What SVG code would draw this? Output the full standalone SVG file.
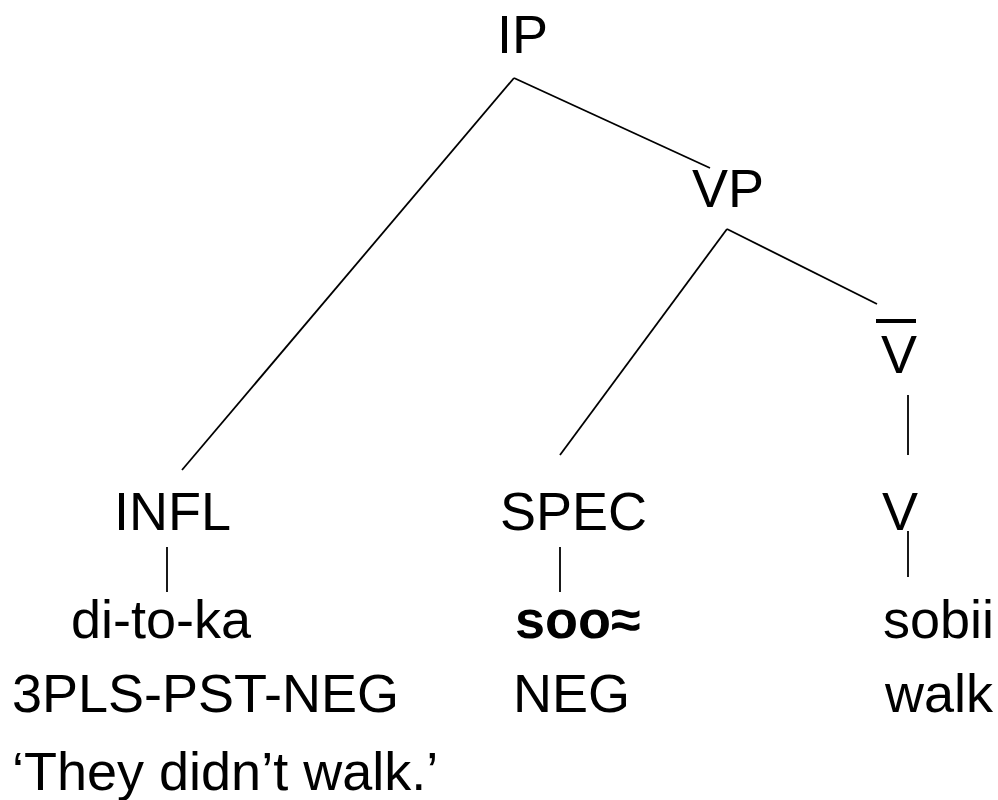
<svg xmlns="http://www.w3.org/2000/svg" width="998" height="800" viewBox="0 0 998 800">
  <style>
    text { font-family: "Liberation Sans", Arial, sans-serif; font-size: 54px; fill: #000; }
    .b { font-weight: bold; }
    .edge { stroke: #000; stroke-width: 1.8; fill: none; }
  </style>
  <rect width="998" height="800" fill="#fff"/>
  <g id="connectors">
    <line class="edge" x1="514" y1="78" x2="182" y2="470"/>
    <line class="edge" x1="514" y1="78" x2="710" y2="168"/>
    <line class="edge" x1="727" y1="229" x2="560" y2="455"/>
    <line class="edge" x1="727" y1="229" x2="877" y2="304"/>
    <line class="edge" x1="908" y1="395" x2="908" y2="455"/>
    <line class="edge" x1="167" y1="547" x2="167" y2="592"/>
    <line class="edge" x1="560" y1="547" x2="560" y2="592"/>
    <line class="edge" x1="908" y1="531" x2="908" y2="577"/>
  </g>
  <g id="ip"><text x="497" y="53">IP</text></g>
  <g id="vp"><text x="692" y="207">VP</text></g>
  <g id="vbar">
    <rect x="876" y="319" width="40" height="4" fill="#000"/>
    <text x="881" y="373">V</text>
  </g>
  <g id="infl"><text x="114" y="530">INFL</text></g>
  <g id="spec"><text x="500" y="530">SPEC</text></g>
  <g id="v"><text x="882" y="530">V</text></g>
  <g id="infl-word">
    <text x="71" y="638">di-to-ka</text>
    <text x="12" y="712">3PLS-PST-NEG</text>
  </g>
  <g id="spec-word">
    <text class="b" x="515" y="638">soo≈</text>
    <text x="513" y="712">NEG</text>
  </g>
  <g id="v-word">
    <text x="883" y="638">sobii</text>
    <text x="885" y="712">walk</text>
  </g>
  <g id="translation"><text x="12" y="790">‘They didn’t walk.’</text></g>
</svg>
